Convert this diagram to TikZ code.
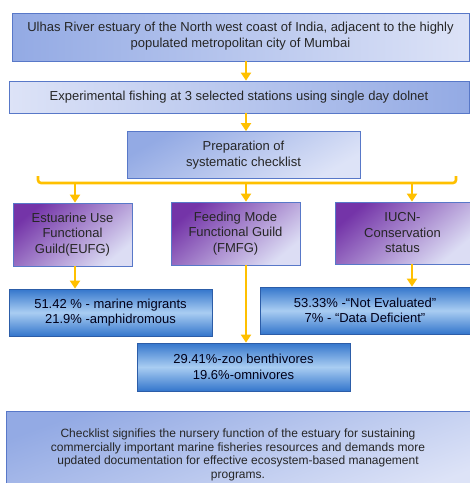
\documentclass[tikz,border=0pt]{standalone}
\usepackage{fontspec}
\setmainfont{Liberation Sans}
\usetikzlibrary{arrows.meta,calc}
\definecolor{flowyellow}{HTML}{FFC000}
\definecolor{boxline}{HTML}{5878C8}
\definecolor{lightblue}{HTML}{DDE3F7}
\definecolor{midblue}{HTML}{93AAE4}
\definecolor{guildpurple}{HTML}{7434A8}
\definecolor{guildpale}{HTML}{DCDDF4}
\definecolor{resblue}{HTML}{3476CC}
\definecolor{respale}{HTML}{A9CDF2}
\definecolor{resline}{HTML}{2C5DA8}
\begin{document}
\begin{tikzpicture}[x=1pt,y=-1pt,
  box/.style={draw=boxline,line width=0.8pt,align=center,inner sep=2pt,
    text=black!85,font=\fontsize{13}{15.5}\selectfont},
  bluebox/.style={box,left color=midblue,right color=lightblue},
  palebox/.style={box,left color=lightblue,right color=midblue},
  guildbox/.style={box,top color=guildpurple,bottom color=guildpale,shading angle=40},
  resbox/.style={box,draw=resline,top color=resblue,bottom color=resblue,middle color=respale,
    text=black!90!blue},
  flow/.style={draw=flowyellow,line width=2.6pt,-{Triangle[width=10pt,length=8pt]}}]
\useasboundingbox (0,0) rectangle (470,483);
% boxes
\node[bluebox,minimum width=457pt,minimum height=48pt,text depth=4pt] (top) at (240.5,37)
  {Ulhas River estuary of the North west coast of India, adjacent to the highly\\populated metropolitan city of Mumbai};
\node[palebox,minimum width=460pt,minimum height=32pt] (exp) at (239,97)
  {Experimental fishing at 3 selected stations using single day dolnet};
\node[box,top color=midblue,bottom color=lightblue,shading angle=30,minimum width=233pt,minimum height=47pt] (prep) at (243.5,155)
  {Preparation of\\systematic checklist};
\node[guildbox,minimum width=119pt,minimum height=63pt] (eufg) at (72.5,234.5)
  {Estuarine Use\\Functional\\Guild(EUFG)};
\node[guildbox,minimum width=129pt,minimum height=63pt] (fmfg) at (235.5,233.5)
  {Feeding Mode\\Functional Guild\\(FMFG)};
\node[guildbox,minimum width=135pt,minimum height=62pt] (iucn) at (402.5,233)
  {IUCN-\\Conservation\\status};
\node[resbox,minimum width=203pt,minimum height=47pt] (mig) at (110.5,312.5)
  {51.42 \% - marine migrants\\21.9\% -amphidromous};
\node[resbox,minimum width=213pt,minimum height=48pt] (ben) at (243.5,367)
  {29.41\%-zoo benthivores\\19.6\%-omnivores};
\node[resbox,minimum width=210pt,minimum height=47pt] (red) at (365,310.5)
  {53.33\% -“Not Evaluated”\\7\% - “Data Deficient”};
\node[box,top color=midblue,bottom color=lightblue,shading angle=20,minimum width=464pt,minimum height=88pt,
  font=\fontsize{12}{13.5}\selectfont] (end) at (238,455)
  {Checklist signifies the nursery function of the estuary for sustaining\\
   commercially important marine fisheries resources and demands more\\
   updated documentation for effective ecosystem-based management\\programs.};
% connectors
\coordinate (spine) at (246,0);
\coordinate (bl) at (38,176);
\coordinate (br) at (456,176);
\coordinate (b1) at (75,183);
\coordinate (b2) at (246,183);
\coordinate (b3) at (412,183);
\draw[flow] (top.south -| spine) -- (exp.north -| spine);
\draw[flow] (exp.south -| spine) -- (prep.north -| spine);
\draw[draw=flowyellow,line width=2.6pt,rounded corners=3pt] (bl) |- (b2) -| (br);
\draw[flow] (b1) -- (eufg.north -| b1);
\draw[flow] (b2) -- (fmfg.north -| b2);
\draw[flow] (b3) -- (iucn.north -| b3);
\draw[flow] (eufg.south -| b1) -- (mig.north -| b1);
\draw[flow] (fmfg.south -| b2) -- (ben.north -| b2);
\draw[flow] (iucn.south -| b3) -- (red.north -| b3);
\end{tikzpicture}
\end{document}
